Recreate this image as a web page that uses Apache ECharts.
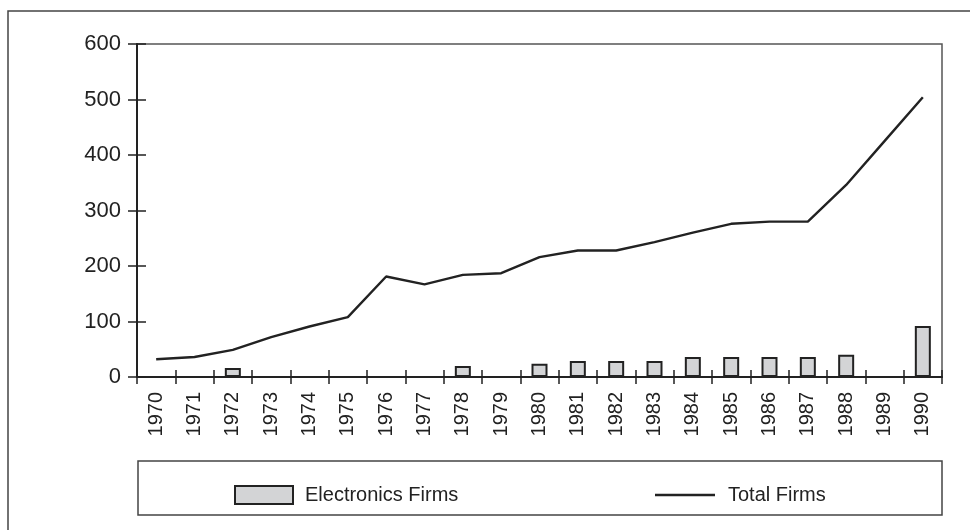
<!DOCTYPE html>
<html>
<head>
<meta charset="utf-8">
<script src="https://cdn.jsdelivr.net/npm/echarts@6/dist/echarts.min.js"></script>
<style>
  html, body { margin: 0; padding: 0; background: #fff; }
  #chart { width: 970px; height: 530px; }
</style>
</head>
<body>
<div id="chart"></div>
<script>
// data
const years = ['1970','1971','1972','1973','1974','1975','1976','1977','1978','1979','1980',
               '1981','1982','1983','1984','1985','1986','1987','1988','1989','1990'];
const electronicsFirms = [null, null, 16, null, null, null, null, null, 20, null, 24,
                          29, 29, 29, 36, 36, 36, 36, 40, null, 92];
const totalFirms = [32, 36, 49, 72, 91, 108, 181, 167, 184, 187, 216,
                    228, 228, 243, 260, 276, 280, 280, 346, 425, 504];

const ink = '#222';
const font = 'Liberation Sans, Arial, Helvetica, sans-serif';

const chart = echarts.init(document.getElementById('chart'));

const option = {
    backgroundColor: '#fff',
    animation: false,
    grid: {
        left: 137, right: 28, top: 44, bottom: 153,
        show: true,
        borderColor: '#555',
        borderWidth: 1.5
    },
    legend: [
        {
            data: [{ name: 'Electronics Firms', icon: 'rect' }],
            left: 229, top: 480,
            itemWidth: 58, itemHeight: 18,
            textStyle: { color: ink, fontSize: 20, fontFamily: font, padding: [0, 0, 0, 7] }
        },
        {
            // plain line as the key, no symbol
            data: [{ name: 'Total Firms', icon: 'rect' }],
            left: 650, top: 480,
            itemWidth: 60, itemHeight: 2.5,
            textStyle: { color: ink, fontSize: 20, fontFamily: font, padding: [0, 0, 0, 8] }
        }
    ],
    xAxis: [
        {
            type: 'category',
            data: years,
            boundaryGap: true,
            axisLine: { lineStyle: { color: ink, width: 2 } },
            axisTick: { show: true, length: 7, lineStyle: { color: ink, width: 1.5 } },
            axisLabel: { rotate: 90, margin: 15, color: ink, fontSize: 20, fontFamily: font },
            splitLine: { show: false }
        },
        {
            // second copy only for the inner half of the ticks
            type: 'category',
            data: years,
            position: 'bottom',
            boundaryGap: true,
            axisLine: { show: false },
            axisTick: { show: true, inside: true, length: 7, lineStyle: { color: ink, width: 1.5 } },
            axisLabel: { show: false },
            splitLine: { show: false }
        }
    ],
    yAxis: [
        {
            type: 'value',
            min: 0, max: 600, interval: 100,
            axisLine: { show: true, lineStyle: { color: ink, width: 2 } },
            axisTick: { show: true, length: 9, lineStyle: { color: ink, width: 1.5 } },
            axisLabel: { margin: 16, color: ink, fontSize: 22, fontFamily: font },
            splitLine: { show: false }
        },
        {
            type: 'value',
            position: 'left',
            min: 0, max: 600, interval: 100,
            axisLine: { show: false },
            axisTick: { show: true, inside: true, length: 9, lineStyle: { color: ink, width: 1.5 } },
            axisLabel: { show: false },
            splitLine: { show: false }
        }
    ],
    series: [
        {
            name: 'Electronics Firms',
            type: 'bar',
            data: electronicsFirms,
            barWidth: 16,
            itemStyle: { color: '#d3d4d6', borderColor: ink, borderWidth: 2 }
        },
        {
            name: 'Total Firms',
            type: 'line',
            data: totalFirms,
            symbol: 'none',
            lineStyle: { color: ink, width: 2.4 },
            itemStyle: { color: ink }
        }
    ],
    graphic: [
        {
            // outer frame
            type: 'rect',
            shape: { x: 8, y: 11, width: 1000, height: 600 },
            style: { fill: 'none', stroke: '#444', lineWidth: 1.5 },
            silent: true
        },
        {
            // legend box
            type: 'rect',
            shape: { x: 138, y: 461, width: 804, height: 54 },
            style: { fill: 'none', stroke: '#444', lineWidth: 1.5 },
            silent: true
        }
    ]
};

chart.setOption(option);
</script>
</body>
</html>
